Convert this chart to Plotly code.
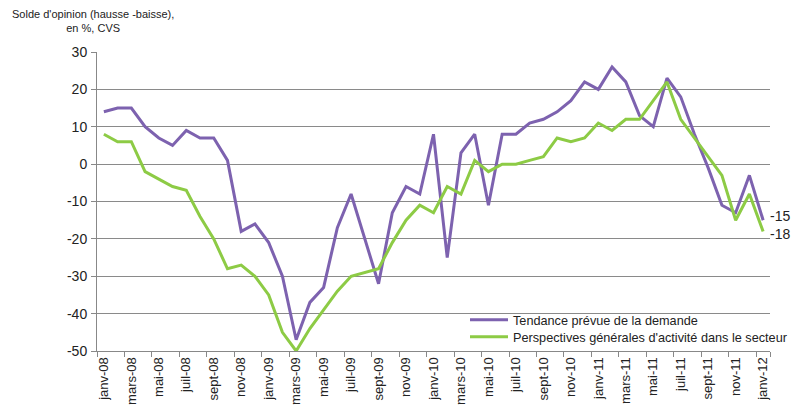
import plotly.graph_objects as go

months = ["janv", "févr", "mars", "avr", "mai", "juin", "juil", "août", "sept", "oct", "nov", "déc"]
categories = [f"{m}-{y:02d}" for y in range(8, 12) for m in months] + ["janv-12"]

demande = [14, 15, 15, 10, 7, 5, 9, 7, 7, 1, -18, -16,
           -21, -30, -47, -37, -33, -17, -8, -20, -32, -13, -6, -8,
           8, -25, 3, 8, -11, 8, 8, 11, 12, 14, 17, 22,
           20, 26, 22, 13, 10, 23, 18, 8, -1, -11, -13, -3,
           -15]
activite = [8, 6, 6, -2, -4, -6, -7, -14, -20, -28, -27, -30,
            -35, -45, -50, -44, -39, -34, -30, -29, -28, -21, -15, -11,
            -13, -6, -8, 1, -2, 0, 0, 1, 2, 7, 6, 7,
            11, 9, 12, 12, 17, 22, 12, 7, 2, -3, -15, -8,
            -18]

tick_labels = ["janv-08", "mars-08", "mai-08", "juil-08", "sept-08", "nov-08",
               "janv-09", "mars-09", "mai-09", "juil-09", "sept-09", "nov-09",
               "janv-10", "mars-10", "mai-10", "juil-10", "sept-10", "nov-10",
               "janv-11", "mars-11", "mai-11", "juil-11", "sept-11", "nov-11",
               "janv-12"]
y_ticks = [-50, -40, -30, -20, -10, 0, 10, 20, 30]

x = list(range(len(categories)))
FONT = "Liberation Sans Narrow, Arial Narrow, Liberation Sans, Arial"
PURPLE = "#7D62AF"
GREEN = "#8DCB45"

W, H = 796, 412
PL, PT, PR, PB = 97, 52, 770, 351   # plot area in window pixels
PW, PH = PR - PL, PB - PT


def px_x(sx):
    return (sx - PL) / PW


def px_y(sy):
    return (PB - sy) / PH


fig = go.Figure()
fig.add_trace(go.Scatter(x=x, y=demande, mode="lines", name="Tendance prévue de la demande",
                         line=dict(color=PURPLE, width=3), legend="legend"))
fig.add_trace(go.Scatter(x=x, y=activite, mode="lines",
                         name="Perspectives générales d'activité dans le secteur",
                         line=dict(color=GREEN, width=3), legend="legend2"))

leg_common = dict(xanchor="left", yanchor="middle", bgcolor="rgba(0,0,0,0)",
                  font=dict(size=12.7, family=FONT, color="#222"), itemwidth=38,
                  borderwidth=0)

fig.update_layout(
    width=W, height=H,
    margin=dict(l=PL, r=W - PR, t=PT, b=H - PB, pad=0, autoexpand=False),
    paper_bgcolor="white", plot_bgcolor="white",
    font=dict(family=FONT, size=13, color="#222"),
    showlegend=True,
    legend=dict(x=px_x(465), y=px_y(320), **leg_common),
    legend2=dict(x=px_x(465), y=px_y(337), **leg_common),
    xaxis=dict(range=[-0.5, len(x) - 0.5], tickmode="array",
               tickvals=x[::2], ticktext=tick_labels, tickangle=-90,
               ticks="", showgrid=False, showline=True, linecolor="#888", linewidth=1,
               zeroline=False, tickfont=dict(size=13), automargin=False,
               minor=dict(tickmode="array", tickvals=[v - 0.5 for v in x[::2]] + [len(x) - 0.5],
                          ticks="outside", ticklen=5, tickcolor="#888", showgrid=False)),
    yaxis=dict(range=[-50, 30], tickmode="array", tickvals=y_ticks,
               ticktext=[str(v) for v in y_ticks],
               showgrid=True, gridcolor="#8a8a8a", gridwidth=1,
               showline=True, linecolor="#888", linewidth=1, zeroline=False,
               ticks="outside", ticklen=5, tickcolor="#888", tickfont=dict(size=14),
               ticklabelstandoff=1, automargin=False),
)

fig.add_annotation(text="Solde d'opinion (hausse -baisse),<br>en %, CVS", xref="paper", yref="paper",
                   x=px_x(93), y=px_y(6), xanchor="center", yanchor="top",
                   showarrow=False, align="center", font=dict(size=11, family=FONT))
fig.add_annotation(text=str(demande[-1]), x=x[-1], y=demande[-1], xanchor="left", yanchor="middle",
                   xshift=5, yshift=4, showarrow=False, font=dict(size=14, family=FONT))
fig.add_annotation(text=str(activite[-1]), x=x[-1], y=activite[-1], xanchor="left", yanchor="middle",
                   xshift=5, yshift=-3, showarrow=False, font=dict(size=14, family=FONT))

fig.write_html("out.html", config={"displayModeBar": False},
               post_script="document.body.style.margin='0';")
